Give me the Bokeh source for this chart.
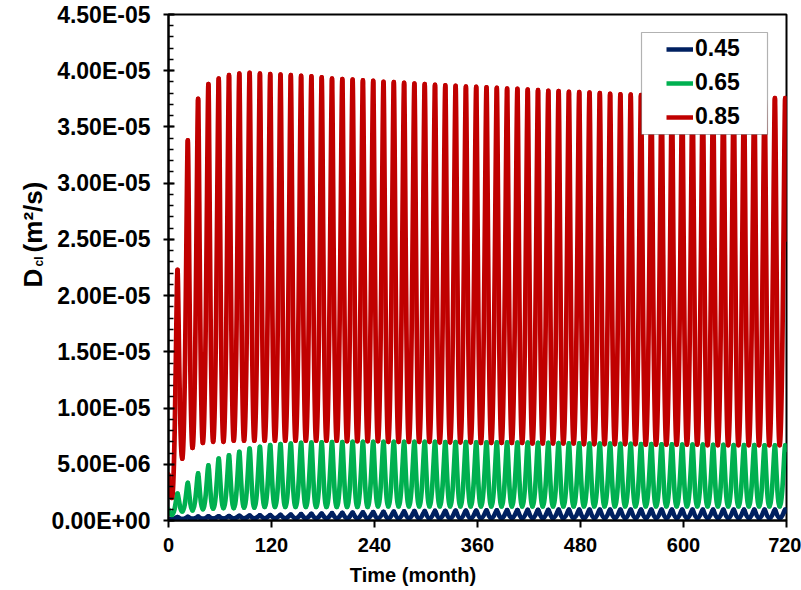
import numpy as np
from bokeh.plotting import figure
from bokeh.layouts import row, column
from bokeh.models import (FixedTicker, CustomJSTickFormatter, Legend, LegendItem,
                          BoxAnnotation, Range1d, ColumnDataSource)
from bokeh.core.properties import value
from bokeh.embed import file_html
from bokeh.resources import INLINE

# ---------------- data ----------------
series_names = ["0.45", "0.65", "0.85"]
series_colors = ["#002060", "#00B050", "#C00000"]

x_ticks = [0, 120, 240, 360, 480, 600, 720]
y_ticks = [0.0, 5e-6, 1e-5, 1.5e-5, 2e-5, 2.5e-5, 3e-5, 3.5e-5, 4e-5, 4.5e-5]

# seasonal cycle: one trough and one peak per 12 months
cycle_months = 12.0
first_trough_month = 4.0
first_peak_month = 10.5
last_month = 720.0

# w/c 0.85 (peaks in 1e-5, troughs in 1e-6)
red_start = 4.1e-6
red_end = 2.5e-5
red_peak = np.array([
    2.23, 3.38, 3.75, 3.88, 3.93, 3.96, 3.975, 3.98, 3.975, 3.97,
    3.965, 3.96, 3.955, 3.95, 3.94, 3.93, 3.925, 3.92, 3.915, 3.91,
    3.90, 3.898, 3.892, 3.886, 3.88, 3.874, 3.871, 3.865, 3.859, 3.856,
    3.853, 3.847, 3.842, 3.838, 3.833, 3.827, 3.821, 3.818, 3.812, 3.81,
    3.805, 3.80, 3.795, 3.79, 3.787, 3.784, 3.781, 3.778, 3.775, 3.772,
    3.77, 3.768, 3.766, 3.764, 3.762, 3.76, 3.76, 3.758, 3.757, 3.756]) * 1e-5
red_trough = np.array([
    2.0, 5.5, 6.45, 6.9, 7.0, 7.0, 7.1, 7.1, 7.1, 7.1,
    7.1, 7.1, 7.1, 7.1, 7.1, 7.1, 7.1, 7.05, 7.05, 7.05,
    7.05, 7.0, 7.0, 7.0, 7.0, 7.0, 6.95, 6.95, 6.95, 6.95,
    6.9, 6.9, 6.9, 6.9, 6.9, 6.85, 6.85, 6.85, 6.85, 6.85,
    6.8, 6.8, 6.8, 6.8, 6.8, 6.8, 6.75, 6.75, 6.75, 6.75,
    6.75, 6.75, 6.7, 6.7, 6.7, 6.7, 6.7, 6.7, 6.7, 6.7]) * 1e-6

# w/c 0.65 (1e-6)
green_start = 1.0e-6
green_end = 6.3e-6
green_peak = np.array([
    2.4, 3.34, 4.2, 4.9, 5.5, 5.8, 6.1, 6.4, 6.55, 6.7,
    6.8, 6.85, 6.9, 6.92, 6.95, 6.97, 6.98, 7.0, 7.0, 7.0,
    7.0, 7.0, 7.0, 7.0, 7.0, 7.0, 6.98, 6.98, 6.97, 6.96,
    6.95, 6.95, 6.94, 6.93, 6.92, 6.9, 6.9, 6.88, 6.87, 6.86,
    6.85, 6.84, 6.83, 6.82, 6.81, 6.8, 6.79, 6.78, 6.77, 6.76,
    6.75, 6.74, 6.73, 6.72, 6.71, 6.7, 6.7, 6.69, 6.68, 6.68]) * 1e-6
green_trough = np.array([
    0.5, 0.8, 0.9, 1.0, 1.05, 1.1, 1.1, 1.15, 1.15, 1.2,
    1.2, 1.2, 1.2, 1.2, 1.2, 1.2, 1.2, 1.2, 1.2, 1.2,
    1.25, 1.25, 1.25, 1.25, 1.25, 1.25, 1.25, 1.25, 1.25, 1.25,
    1.25, 1.25, 1.25, 1.25, 1.25, 1.25, 1.25, 1.25, 1.25, 1.25,
    1.25, 1.25, 1.25, 1.25, 1.25, 1.25, 1.25, 1.25, 1.25, 1.25,
    1.25, 1.25, 1.25, 1.25, 1.25, 1.25, 1.25, 1.25, 1.25, 1.25]) * 1e-6

# w/c 0.45 (1e-6)
blue_start = 0.1e-6
blue_end = 0.8e-6
blue_peak = np.array([
    0.30, 0.32, 0.34, 0.36, 0.38, 0.40, 0.42, 0.44, 0.46, 0.48,
    0.50, 0.53, 0.56, 0.59, 0.62, 0.65, 0.68, 0.71, 0.73, 0.75,
    0.77, 0.79, 0.81, 0.83, 0.84, 0.85, 0.86, 0.87, 0.88, 0.89,
    0.90, 0.91, 0.92, 0.93, 0.94, 0.95, 0.95, 0.96, 0.96, 0.96,
    0.97, 0.97, 0.97, 0.97, 0.97, 0.97, 0.97, 0.97, 0.97, 0.97,
    0.97, 0.97, 0.97, 0.97, 0.97, 0.97, 0.97, 0.97, 0.97, 0.97]) * 1e-6
blue_trough = np.array([
    0.10, 0.12, 0.14, 0.15, 0.16, 0.17, 0.18, 0.19, 0.20, 0.20,
    0.20, 0.20, 0.20, 0.20, 0.20, 0.20, 0.20, 0.20, 0.20, 0.20,
    0.20, 0.20, 0.20, 0.20, 0.20, 0.20, 0.20, 0.20, 0.20, 0.20,
    0.22, 0.22, 0.22, 0.22, 0.22, 0.22, 0.22, 0.22, 0.22, 0.22,
    0.22, 0.22, 0.22, 0.22, 0.22, 0.22, 0.22, 0.22, 0.22, 0.22,
    0.22, 0.22, 0.22, 0.22, 0.22, 0.22, 0.22, 0.22, 0.22, 0.22]) * 1e-6

series = [
    (blue_start, blue_trough, blue_peak, blue_end),
    (green_start, green_trough, green_peak, green_end),
    (red_start, red_trough, red_peak, red_end),
]

x_title = "Time (month)"
y_title_parts = ["D", "cl", "(m²/s)"]

# ---------------- layout constants ----------------
W, H = 801, 590
LW = 48                                # width of the y-title strip
XH = 28                                # height of the x-title strip
TOPH = H - XH                          # height of the chart row
FL, FR, FT, FB = 168, 786, 14, 520     # frame edges in page pixels
X0, X1, Y0, Y1 = 0.0, 720.0, 0.0, 4.5e-5
FONT = "Liberation Sans"


def px_x(px):
    return X0 + (px - FL) * (X1 - X0) / (FR - FL)


def px_y(py):
    return Y0 + (FB - py) * (Y1 - Y0) / (FB - FT)


def extrema(start, troughs, peaks, end):
    xs, ys = [0.0], [start]
    for k in range(len(peaks)):
        xs += [first_trough_month + cycle_months * k, first_peak_month + cycle_months * k]
        ys += [troughs[k], peaks[k]]
    xs.append(last_month)
    ys.append(end)
    return np.array(xs), np.array(ys)


def bezier_source(xs, ys, a_peak=0.18, a_trough=0.55):
    x0, x1, y0, y1 = xs[:-1], xs[1:], ys[:-1], ys[1:]
    dx = x1 - x0
    rising = y1 > y0
    a0 = np.where(rising, a_trough, a_peak)
    a1 = np.where(rising, a_peak, a_trough)
    return ColumnDataSource(dict(x0=x0, y0=y0, x1=x1, y1=y1,
                                 cx0=x0 + a0 * dx, cy0=y0,
                                 cx1=x1 - a1 * dx, cy1=y1))


def text_strip(w, h):
    f = figure(frame_width=w, frame_height=h, output_backend="svg",
               toolbar_location=None, title=None,
               x_range=Range1d(0, w), y_range=Range1d(0, h),
               x_axis_type=None, y_axis_type=None,
               min_border_left=0, min_border_right=0,
               min_border_top=0, min_border_bottom=0)
    f.outline_line_color = None
    f.xgrid.visible = False
    f.ygrid.visible = False
    f.background_fill_color = "white"
    f.border_fill_color = "white"
    return f


p = figure(width=W - LW, height=TOPH, output_backend="svg", toolbar_location=None,
           x_range=Range1d(X0, X1), y_range=Range1d(Y0, Y1),
           min_border_left=FL - LW, min_border_right=W - FR,
           min_border_top=FT, min_border_bottom=TOPH - FB)
p.xgrid.visible = False
p.ygrid.visible = False
p.outline_line_color = "black"
p.outline_line_width = 2
p.background_fill_color = "white"
p.border_fill_color = "white"

legend_items = []
for (start, tr, pk, end), name, col in zip(series, series_names, series_colors):
    xs, ys = extrema(start, tr, pk, end)
    src = bezier_source(xs, ys)
    p.bezier(x0="x0", y0="y0", x1="x1", y1="y1", cx0="cx0", cy0="cy0",
             cx1="cx1", cy1="cy1", source=src, line_color=col, line_width=4.7,
             line_cap="round")
    key = p.line(x=[np.nan], y=[np.nan], line_color=col, line_width=4.5)
    legend_items.append(LegendItem(label=name, renderers=[key]))

# axes
for ax in (p.xaxis[0], p.yaxis[0]):
    ax.axis_line_width = 2
    ax.axis_line_color = "black"
    ax.major_tick_line_width = 2
    ax.major_tick_line_color = "black"
    ax.major_label_text_font = FONT
    ax.major_label_text_font_style = "bold"
    ax.major_label_text_color = "black"
    ax.axis_label = None

p.xaxis.ticker = FixedTicker(ticks=x_ticks)
p.xaxis.major_tick_in = 0
p.xaxis.major_tick_out = 7
p.xaxis.minor_tick_line_color = None
p.xaxis.major_label_text_font_size = "20px"
p.xaxis.major_label_standoff = 10

p.yaxis.ticker = FixedTicker(ticks=y_ticks, minor_ticks=[i * 1e-6 for i in range(46)])
p.yaxis.major_tick_in = 6
p.yaxis.major_tick_out = 5
p.yaxis.minor_tick_in = 5
p.yaxis.minor_tick_out = 0
p.yaxis.minor_tick_line_width = 1.5
p.yaxis.minor_tick_line_color = "black"
p.yaxis.major_label_text_font_size = "23px"
p.yaxis.major_label_standoff = 13
p.yaxis.formatter = CustomJSTickFormatter(code="""
    const s = tick.toExponential(2).toUpperCase();
    const parts = s.split("E");
    let e = parts[1];
    let sign = "+";
    if (e[0] === "-") { sign = "-"; }
    e = e.replace("-", "").replace("+", "");
    if (e.length < 2) { e = "0" + e; }
    return parts[0] + "E" + sign + e;
""")

# legend frame + legend
box = BoxAnnotation(left=px_x(641), right=px_x(767), top=px_y(32), bottom=px_y(134),
                    fill_color="white", fill_alpha=1.0, line_color="black",
                    line_width=1.2)
p.add_layout(box)
legend = Legend(items=legend_items, location=(666 - FL, FB - 130),
                orientation="vertical", padding=0, margin=0, spacing=7,
                glyph_width=27, glyph_height=24, label_height=24,
                label_standoff=2, label_text_font=FONT, label_text_color="black",
                label_text_font_style="bold", label_text_font_size="23px",
                border_line_alpha=0, background_fill_alpha=0)
p.add_layout(legend)

# y-axis title strip: D_cl (m²/s) as rotated text, centre-anchored (page pixels)
yl = text_strip(LW, TOPH)
y_sizes = ["26px", "12px", "26px"]
y_cx = [32, 38, 32]          # page x of each part's centre
y_cy = [263.5, 247, 202.5]   # page y of each part's centre
for t, s, cx, cy in zip(y_title_parts, y_sizes, y_cx, y_cy):
    yl.text(x=[cx], y=[TOPH - cy], text=[t], angle=np.pi / 2,
            text_font=value(FONT), text_font_style="bold", text_font_size=value(s),
            text_color="black", text_align="center", text_baseline="middle")

# x-axis title strip (left-shifted as in the reference)
xl = text_strip(W, XH)
xl.text(x=[412.5], y=[H - 574], text=[x_title],
        text_font=value(FONT), text_font_style="bold", text_font_size=value("20px"),
        text_color="black", text_align="center", text_baseline="middle")

layout = column(row(yl, p, spacing=0), xl, spacing=0)
open("out.html", "w").write(file_html(layout, INLINE))
